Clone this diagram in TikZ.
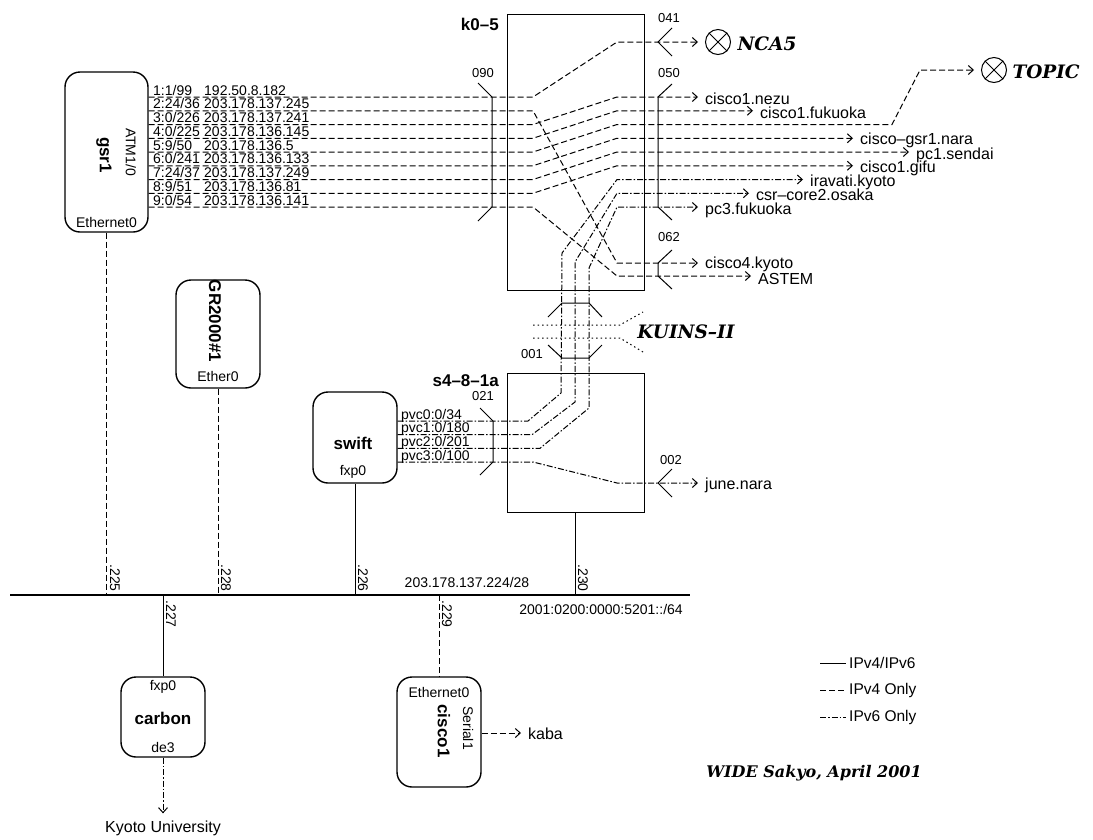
\documentclass[tikz,border=0pt]{standalone}
\usepackage{fontspec}
\setmainfont{Liberation Sans}
\newfontfamily\netfont[Ligatures=TeX]{DejaVu Serif}
\usetikzlibrary{arrows.meta}

\begin{document}
\begin{tikzpicture}[x=1pt,y=-1pt,
  v4/.style={line width=1pt,dash pattern=on 6pt off 3pt},
  v6/.style={line width=1pt,dash pattern=on 6pt off 2pt on 1.5pt off 2pt},
  dual/.style={line width=1pt},
  arr/.style={-{Straight Barb[length=5pt,width=9pt]},shorten >=7pt},
  router/.style={draw,line width=1.4pt,rounded corners=15pt,inner sep=0pt},
  switchbox/.style={draw,line width=1pt,inner sep=0pt},
  devname/.style={inner sep=1pt,font=\bfseries\fontsize{17}{19}\selectfont},
  host/.style={anchor=west,inner sep=0pt,font=\fontsize{16}{18}\selectfont},
  tag/.style={inner sep=1pt,font=\fontsize{14}{16}\selectfont},
  portno/.style={inner sep=1pt,font=\fontsize{13}{15}\selectfont},
  netname/.style={font=\netfont\bfseries\itshape\fontsize{18.5}{21}\selectfont},
  xmark/.style={draw,circle,line width=1pt,minimum size=25pt,inner sep=0pt}]
\useasboundingbox (0,0) rectangle (1093,839);

% routers and switches
\node[router,minimum width=83pt,minimum height=160pt] (gsr1) at (106.5,152) {};
\node[router,minimum width=84pt,minimum height=108pt] (gr2000) at (218,334) {};
\node[router,minimum width=84pt,minimum height=91pt] (swift) at (355,437.5) {};
\node[router,minimum width=84pt,minimum height=80pt] (carbon) at (163,717) {};
\node[router,minimum width=84pt,minimum height=110pt] (cisco1) at (439,732) {};
\node[switchbox,minimum width=137pt,minimum height=276pt] (k05) at (575.5,152) {};
\node[switchbox,minimum width=137pt,minimum height=139pt] (s481a) at (575.5,442.5) {};

\node[devname,rotate=-90] at (104,155) {gsr1};
\node[tag,rotate=-90] at (131,152) {ATM1/0};
\node[tag] at (106.5,222) {Ethernet0};
\node[devname,rotate=-90] at (215,321) {GR2000\#1};
\node[tag] at (218,376) {Ether0};
\node[devname] at (353,443) {swift};
\node[tag] at (353,472) {fxp0};
\node[tag] at (163,687) {fxp0};
\node[devname] at (163,718) {carbon};
\node[tag] at (163,747) {de3};
\node[tag] at (439,692) {Ethernet0};
\node[devname,rotate=-90] at (444,731) {cisco1};
\node[tag,rotate=-90] at (468,728) {Serial1};
\node[devname,anchor=east] at (500,24) {k0--5};
\node[devname,anchor=east] at (500,381) {s4--8--1a};

% port brackets
\draw[line width=1pt] (478,83) -- (492,97) -- (492,207) -- (478,221);
\draw[line width=1pt] (672,84) -- (658,97) -- (658,207) -- (672,220);
\draw[line width=1pt] (672,28) -- (658,42) -- (672,56);
\draw[line width=1pt] (672,250) -- (658,263) -- (658,276) -- (672,289);
\draw[line width=1pt] (480,408) -- (493,421) -- (493,462) -- (480,475);
\draw[line width=1pt] (672,469) -- (658,483) -- (672,497);
\draw[line width=1pt] (548,317) -- (562,303) -- (589,303) -- (602,317);
\draw[line width=1pt] (548,345) -- (562,358) -- (589,358) -- (602,345);
\node[portno] at (483,73) {090};
\node[portno] at (669,73) {050};
\node[portno] at (669,18) {041};
\node[portno] at (669,237) {062};
\node[portno] at (532,354) {001};
\node[portno] at (483,396) {021};
\node[portno] at (671,460) {002};

% ATM PVCs on gsr1
\node[tag,anchor=base west] at (152,95) {1:1/99};
\node[tag,anchor=base west] at (152,108.75) {2:24/36};
\node[tag,anchor=base west] at (152,122.5) {3:0/226};
\node[tag,anchor=base west] at (152,136.25) {4:0/225};
\node[tag,anchor=base west] at (152,150) {5:9/50};
\node[tag,anchor=base west] at (152,163.75) {6:0/241};
\node[tag,anchor=base west] at (152,177.5) {7:24/37};
\node[tag,anchor=base west] at (152,191.25) {8:9/51};
\node[tag,anchor=base west] at (152,205) {9:0/54};
\node[tag,anchor=base west] at (203,95) {192.50.8.182};
\node[tag,anchor=base west] at (203,108.75) {203.178.137.245};
\node[tag,anchor=base west] at (203,122.5) {203.178.137.241};
\node[tag,anchor=base west] at (203,136.25) {203.178.136.145};
\node[tag,anchor=base west] at (203,150) {203.178.136.5};
\node[tag,anchor=base west] at (203,163.75) {203.178.136.133};
\node[tag,anchor=base west] at (203,177.5) {203.178.137.249};
\node[tag,anchor=base west] at (203,191.25) {203.178.136.81};
\node[tag,anchor=base west] at (203,205) {203.178.136.141};

% remote ends
\node[xmark] (nca5) at (718,42) {};
\draw[line width=1pt] (nca5.north west) -- (nca5.south east) (nca5.north east) -- (nca5.south west);
\node[netname,anchor=west] at (734,44) {NCA5};
\node[xmark] (topic) at (994,70) {};
\draw[line width=1pt] (topic.north west) -- (topic.south east) (topic.north east) -- (topic.south west);
\node[netname,anchor=west] at (1009,72) {TOPIC};
\node[host] (nezu) at (705,99) {cisco1.nezu};
\node[host] (fukuoka) at (760,113) {cisco1.fukuoka};
\node[host] (nara) at (860,140) {cisco--gsr1.nara};
\node[host] (sendai) at (916,155) {pc1.sendai};
\node[host] (gifu) at (860,168) {cisco1.gifu};
\node[host] (iravati) at (810,182) {iravati.kyoto};
\node[host] (osaka) at (756,195) {csr--core2.osaka};
\node[host] (pc3) at (705,210) {pc3.fukuoka};
\node[host] (cisco4) at (705,264) {cisco4.kyoto};
\node[host] (astem) at (758,279) {ASTEM};
\node[host] (june) at (705,485) {june.nara};

% IPv4 PVCs through k0-5
\foreach \ys/\yd/\dst in {97/42/nca5,110.75/263/cisco4,124.5/97/nezu,138.25/110.75/fukuoka,
  165.75/138.25/nara,179.5/152/sendai,193.25/165.75/gifu,207/276/astem}
  \draw[v4,arr] (gsr1.east |- 0,\ys) -- (533,\ys) -- (617,\yd) -- (\dst.west |- 0,\yd);
\draw[v4,arr] (gsr1.east |- 0,152) -- (533,152) -- (617,124.5) -- (892,124.5) -- (920,70) -- (topic.west);

% IPv6 PVCs on swift
\node[tag,anchor=base west] at (400,419) {pvc0:0/34};
\node[tag,anchor=base west] at (400,432.7) {pvc1:0/180};
\node[tag,anchor=base west] at (400,446.3) {pvc2:0/201};
\node[tag,anchor=base west] at (400,460) {pvc3:0/100};
\draw[v6,arr] (swift.east |- 0,421) -- (528,421) -- (561,393) -- (562,253) -- (617,179.5) -- (iravati.west |- 0,179.5);
\draw[v6,arr] (swift.east |- 0,434.7) -- (532,434.7) -- (575,402) -- (575,262) -- (617,193.25) -- (osaka.west |- 0,193.25);
\draw[v6,arr] (swift.east |- 0,448.3) -- (540,448.3) -- (589,408) -- (589,268) -- (617,207) -- (pc3.west |- 0,207);
\draw[v6,arr] (swift.east |- 0,462) -- (533,462) -- (617,483) -- (june.west |- 0,483);

% KUINS-II
\draw[line width=1pt,dash pattern=on 1.5pt off 3pt] (533,325) -- (620,325) -- (643,312);
\draw[line width=1pt,dash pattern=on 1.5pt off 3pt] (533,338) -- (620,338) -- (643,352);
\node[netname] at (686,332) {KUINS--II};

% segment 203.178.137.224/28
\coordinate (busW) at (10,595);
\coordinate (busE) at (690,595);
\draw[line width=1.2pt] (busW) -- (busE);
\draw[v4] (gsr1.south) -- (gsr1.south |- busW);
\draw[v4] (gr2000.south) -- (gr2000.south |- busW);
\draw[dual] (swift.south) -- (swift.south |- busW);
\draw[dual] (s481a.south) -- (s481a.south |- busW);
\draw[dual] (carbon.north |- busW) -- (carbon.north);
\draw[v4] (cisco1.north |- busW) -- (cisco1.north);
\node[tag,rotate=-90] at (115,578) {.225};
\node[tag,rotate=-90] at (226,578) {.228};
\node[tag,rotate=-90] at (363,578) {.226};
\node[tag,rotate=-90] at (583,578) {.230};
\node[tag,rotate=-90] at (171,614) {.227};
\node[tag,rotate=-90] at (447,614) {.229};
\node[tag] at (467,582) {203.178.137.224/28};
\node[tag] at (601,609) {2001:0200:0000:5201::/64};

\node[host,anchor=center] (kyoto) at (163,828) {Kyoto University};
\draw[v6,arr] (carbon.south) -- (kyoto.north);
\node[host] (kaba) at (528,734) {kaba};
\draw[v4,arr] (cisco1.east |- 0,733) -- (kaba.west |- 0,733);

% legend
\draw[dual] (820,663) -- (846,663);
\draw[v4] (820,690) -- (846,690);
\draw[v6] (820,717) -- (846,717);
\node[tag,anchor=west,font=\fontsize{15.5}{17}\selectfont] at (848,663) {IPv4/IPv6};
\node[tag,anchor=west,font=\fontsize{15.5}{17}\selectfont] at (848,690) {IPv4 Only};
\node[tag,anchor=west,font=\fontsize{15.5}{17}\selectfont] at (848,717) {IPv6 Only};
\node[netname,font=\netfont\bfseries\itshape\fontsize{16}{19}\selectfont] at (814,773) {WIDE Sakyo, April 2001};
\end{tikzpicture}
\end{document}
